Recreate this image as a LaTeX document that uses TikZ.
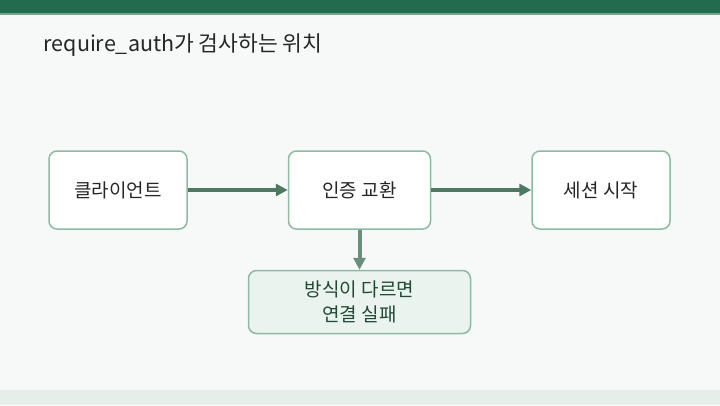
\documentclass[tikz,border=0pt]{standalone}
\usepackage{fontspec}
\setmainfont{Noto Sans CJK KR}
\usepackage{tikz}
\usetikzlibrary{positioning}
\usetikzlibrary{arrows.meta}
\definecolor{barGreen}{HTML}{236B4F}
\definecolor{barLine}{HTML}{6FA88C}
\definecolor{pageBg}{HTML}{F7F9F8}
\definecolor{footBg}{HTML}{E5EEE9}
\definecolor{edgeGreen}{HTML}{8DBBA1}
\definecolor{flowGreen}{HTML}{4F7A61}
\definecolor{noteFill}{HTML}{EAF3EE}
\definecolor{noteText}{HTML}{1F4A36}
\tikzset{every picture/.style={semithick, >={Triangle[length=12pt,width=12pt]}}}
\tikzstyle{block}=[draw=edgeGreen,line width=1.5pt,fill=white,rounded corners=8pt,font=\fontsize{19pt}{23pt}\selectfont,text=black!85]
\tikzstyle{flow}=[->,draw=flowGreen,line width=4pt]

\begin{document}
\begin{tikzpicture}[x=1pt,y=-1pt]
        \useasboundingbox (0,0) rectangle (720,405);
        \fill [pageBg] (0,0) rectangle (720,405);
        \fill [footBg] (0,390) rectangle (720,405);
        \fill [barGreen] (0,0) rectangle (720,13);
        \fill [barLine] (0,13) rectangle (720,14.5);
        \node [anchor=base west,font=\fontsize{21.5pt}{25pt}\selectfont,text=black!85] (title) at (40,51) {require\_auth가 검사하는 위치};
        \node [block,minimum width=138pt,minimum height=78pt] (client) at (118,190) {클라이언트};
        \node [block,minimum width=142pt,minimum height=78pt,right=100pt of client] (auth) {인증 교환};
        \node [block,minimum width=138pt,minimum height=78pt,right=100pt of auth] (session) {세션 시작};
        \node [block,fill=noteFill,text=noteText,align=center,minimum width=222pt,minimum height=63pt,below=40pt of auth,font=\fontsize{19pt}{25pt}\selectfont] (fail) {방식이 다르면\\연결 실패};
        \draw [flow] (client) -- (auth);
        \draw [flow] (auth) -- (session);
        \draw [flow,draw=flowGreen!85!white] (auth) -- (fail);
        \end{tikzpicture}
\end{document}
